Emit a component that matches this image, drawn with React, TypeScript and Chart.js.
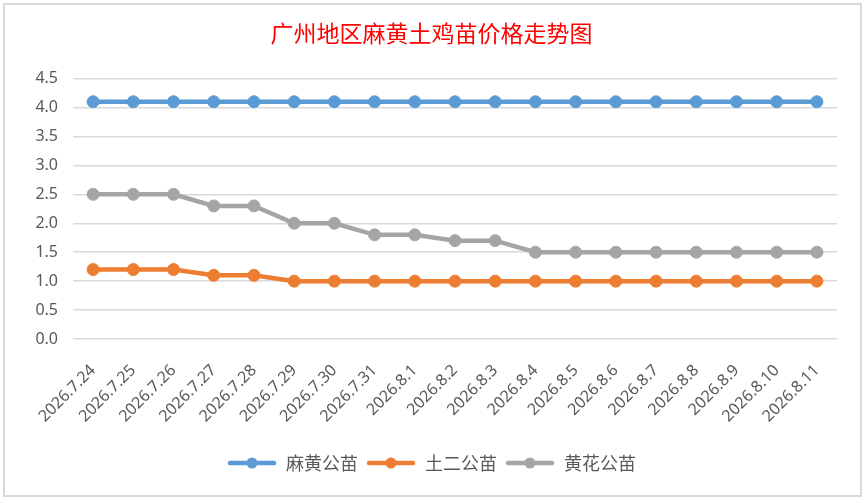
import React, { useEffect, useRef } from "react";
import { Chart, registerables } from "chart.js";

Chart.register(...registerables);

const dates = [
  "2026.7.24", "2026.7.25", "2026.7.26", "2026.7.27", "2026.7.28", "2026.7.29", "2026.7.30", "2026.7.31",
  "2026.8.1", "2026.8.2", "2026.8.3", "2026.8.4", "2026.8.5", "2026.8.6", "2026.8.7", "2026.8.8",
  "2026.8.9", "2026.8.10", "2026.8.11",
];
const mahuang = [4.1, 4.1, 4.1, 4.1, 4.1, 4.1, 4.1, 4.1, 4.1, 4.1, 4.1, 4.1, 4.1, 4.1, 4.1, 4.1, 4.1, 4.1, 4.1];
const tuer = [1.2, 1.2, 1.2, 1.1, 1.1, 1.0, 1.0, 1.0, 1.0, 1.0, 1.0, 1.0, 1.0, 1.0, 1.0, 1.0, 1.0, 1.0, 1.0];
const huanghua = [2.5, 2.5, 2.5, 2.3, 2.3, 2.0, 2.0, 1.8, 1.8, 1.7, 1.7, 1.5, 1.5, 1.5, 1.5, 1.5, 1.5, 1.5, 1.5];
const seriesNames = ["麻黄公苗", "土二公苗", "黄花公苗"];
const colors = ["#5b9bd5", "#ed7d31", "#a5a5a5"];

function legendIcon(color: string) {
  const c = document.createElement("canvas");
  c.width = 50;
  c.height = 12;
  const g = c.getContext("2d")!;
  g.strokeStyle = color;
  g.lineWidth = 4.5;
  g.lineCap = "round";
  g.beginPath();
  g.moveTo(3, 6);
  g.lineTo(47, 6);
  g.stroke();
  g.fillStyle = color;
  g.beginPath();
  g.arc(25, 6, 5.5, 0, Math.PI * 2);
  g.fill();
  return c;
}

export default function App() {
  const ref = useRef<HTMLCanvasElement | null>(null);

  useEffect(() => {
    document.body.style.margin = "0";
    const ctx = ref.current?.getContext("2d");
    if (!ctx) return;
    const icons = colors.map(legendIcon);
    const values = [mahuang, tuer, huanghua];
    const chart = new Chart(ctx, {
      type: "line",
      data: {
        labels: dates,
        datasets: values.map((v, i) => ({
          label: seriesNames[i],
          data: v,
          borderColor: colors[i],
          backgroundColor: colors[i],
          borderWidth: 4.5,
          pointRadius: 6,
          pointBorderWidth: 1,
          pointBackgroundColor: colors[i],
          pointBorderColor: colors[i],
          tension: 0,
        })),
      },
      options: {
        animation: false,
        responsive: false,
        layout: { padding: { top: 0, left: 26, right: 29, bottom: 18 } },
        plugins: {
          tooltip: { enabled: false },
          title: {
            display: true,
            text: "广州地区麻黄土鸡苗价格走势图",
            color: "#ff0000",
            font: { family: "'Noto Sans CJK SC'", size: 23, weight: "normal", lineHeight: 1.2 },
            padding: { top: 19, bottom: 32 },
          },
          legend: {
            position: "bottom",
            labels: {
              usePointStyle: true,
              pointStyleWidth: 50,
              padding: 8,
              color: "#595959",
              font: { family: "'Noto Sans CJK SC'", size: 18 },
              generateLabels: (ch) =>
                ch.data.datasets.map((ds, i) => ({
                  text: ds.label as string,
                  pointStyle: icons[i] as any,
                  fillStyle: colors[i],
                  strokeStyle: colors[i],
                  lineWidth: 0,
                  hidden: false,
                  datasetIndex: i,
                  fontColor: "#595959",
                })),
            },
          },
        },
        scales: {
          x: {
            offset: true,
            grid: { display: false },
            border: { display: false },
            ticks: {
              color: "#595959",
              font: { family: "'Noto Sans'", size: 16 },
              minRotation: 45,
              maxRotation: 45,
              autoSkip: false,
              padding: 14,
            },
            afterFit: (s: any) => {
              s.height = 107;
            },
          },
          y: {
            min: 0,
            max: 4.5,
            grid: { color: "#d9d9d9", lineWidth: 1.5, drawTicks: false },
            border: { display: false },
            ticks: {
              stepSize: 0.5,
              color: "#595959",
              font: { family: "'Noto Sans'", size: 16 },
              padding: 15,
              callback: (v: any) => Number(v).toFixed(1),
            },
            afterFit: (s: any) => {
              s.width = 47;
            },
          },
        },
      },
    });
    return () => chart.destroy();
  }, []);

  return (
    <div style={{ position: "relative", width: 866, height: 500, background: "#fff" }}>
      <canvas ref={ref} width={866} height={500} style={{ display: "block" }} />
      <div
        style={{
          position: "absolute",
          left: 3,
          top: 3,
          width: 859,
          height: 494,
          border: "2px solid #d9d9d9",
          boxSizing: "border-box",
          pointerEvents: "none",
        }}
      />
    </div>
  );
}
